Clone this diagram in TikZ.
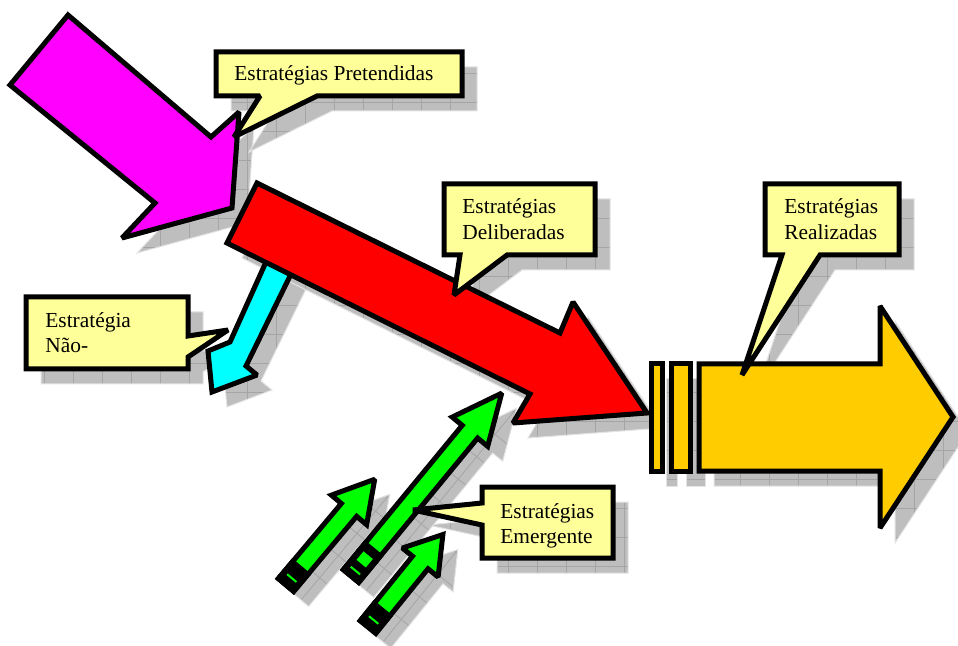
\documentclass[tikz,border=0pt]{standalone}
\usepackage{fontspec}
\setmainfont{Liberation Serif}

\definecolor{shadowgray}{RGB}{190,190,190}
\definecolor{gridgray}{RGB}{165,165,165}
\definecolor{rimgray}{RGB}{228,228,228}
\definecolor{calloutyellow}{RGB}{255,255,153}
\definecolor{realized}{RGB}{255,204,0}
\definecolor{arrowgreen}{RGB}{0,255,0}
\definecolor{intended}{RGB}{255,0,255}
\definecolor{unrealized}{RGB}{0,255,255}
\definecolor{deliberate}{RGB}{255,0,0}

% outlines of the shapes (screen units, y grows downwards)
\newcommand\pathMagenta{(68,15)--(211,137)--(239,112)--(232,208)--(122,238)--(155,203)--(10,85)--cycle}
\newcommand\pathRed{(257,183)--(560,333)--(573,302)--(647,413)--(513,423)--(530,394)--(227,243)--cycle}
\newcommand\pathCyan{(266,262)--(292,272)--(246,366)--(257,375)--(212,392)--(208,351)--(230,342)--cycle}
\newcommand\pathStripeA{(651,364) rectangle (662,471)}
\newcommand\pathStripeB{(671,364) rectangle (690,471)}
\newcommand\pathBody{(699,364)--(880,364)--(880,306)--(953,417)--(880,528)--(880,471)--(699,471)--cycle}
\newcommand\greenpath[2]{(0,-10)--(#1-#2,-10)--(#1-#2,-23)--(#1,0)--(#1-#2,23)--(#1-#2,10)--(0,10)--cycle}
\newcommand\pathPre{(216,52)--(462,52)--(462,96)--(317,96)--(234,137)--(260,96)--(216,96)--cycle}
\newcommand\pathDel{(444,184)--(595,184)--(595,255)--(507,255)--(454,295)--(460,255)--(444,255)--cycle}
\newcommand\pathRea{(765,184)--(899,184)--(899,255)--(820,255)--(742,375)--(782,255)--(765,255)--cycle}
\newcommand\pathNao{(26,297)--(188,297)--(188,336)--(228,330)--(188,357)--(188,369)--(26,369)--cycle}
\newcommand\pathEme{(482,487)--(613,487)--(613,558)--(482,558)--(482,525)--(413,510)--(482,503)--cycle}

% gray gridded drop shadow of a closed path
\newcommand\castshadow[1]{%
  \fill[shadowgray] #1;
  \begin{scope}
    \clip #1;
    \foreach \gl in {-58,-29,...,986}{%
      \draw[gridgray, line width=0.4pt] (\gl,-60) -- (\gl,1000);
      \draw[gridgray, line width=0.4pt] (-60,\gl) -- (1000,\gl);
    }
  \end{scope}
  \draw[rimgray, line width=0.5pt] #1;
}

\begin{document}
\begin{tikzpicture}[x=0.5pt,y=-0.5pt,
  outline/.style={draw=black, line width=2.5pt, line join=miter, miter limit=2},
  lbl/.style={anchor=base west, inner sep=0pt, font=\fontsize{10.7pt}{13pt}\selectfont}]

\useasboundingbox (0,0) rectangle (958,646);

% ---- shadows ----
\begin{scope}[shift={(15,15)}]
  \castshadow{\pathMagenta}
  \castshadow{\pathCyan}
  \castshadow{\pathRed}
  \castshadow{\pathStripeA}
  \castshadow{\pathStripeB}
  \castshadow{\pathBody}
  \castshadow{\pathPre}
  \castshadow{\pathDel}
  \castshadow{\pathRea}
  \castshadow{\pathNao}
  \castshadow{\pathEme}
\end{scope}
\begin{scope}[shift={(301,600)}, rotate=50]
  \castshadow{\greenpath{138}{40}}
\end{scope}
\begin{scope}[shift={(366,591)}, rotate=50.5]
  \castshadow{\greenpath{237}{50}}
\end{scope}
\begin{scope}[shift={(383,642)}, rotate=51]
  \castshadow{\greenpath{119}{36}}
\end{scope}

% ---- big arrows ----
\draw[outline, fill=intended] \pathMagenta;
\draw[outline, fill=unrealized] \pathCyan;
\draw[outline, fill=deliberate] \pathRed;
\draw[outline, fill=realized] \pathStripeA;
\draw[outline, fill=realized] \pathStripeB;
\draw[outline, fill=realized] \pathBody;

% ---- green arrows ----
\begin{scope}[shift={(286,585)}, rotate=50]
  \draw[outline, fill=arrowgreen] \greenpath{138}{40};
  \draw[outline, fill=black] (0,-10) rectangle (22,10);
  \draw[arrowgreen, line width=1pt] (9,-6) -- (9,6);
\end{scope}
\begin{scope}[shift={(351,576)}, rotate=50.5]
  \draw[outline, fill=arrowgreen] \greenpath{237}{50};
  \draw[outline, fill=black] (0,-10) rectangle (34,10);
  \draw[arrowgreen, line width=1pt] (7,-6) -- (7,6);
  \fill[arrowgreen] (16,-6) rectangle (27,6);
\end{scope}
\begin{scope}[shift={(368,627)}, rotate=51]
  \draw[outline, fill=arrowgreen] \greenpath{119}{36};
  \draw[outline, fill=black] (0,-10) rectangle (22,10);
  \draw[arrowgreen, line width=1pt] (9,-6) -- (9,6);
\end{scope}

% ---- callouts ----
\draw[outline, fill=calloutyellow] \pathPre;
\draw[outline, fill=calloutyellow] \pathDel;
\draw[outline, fill=calloutyellow] \pathRea;
\draw[outline, fill=calloutyellow] \pathNao;
\draw[outline, fill=calloutyellow] \pathEme;

\node[lbl] (tPre)  at (234,81)  {Estratégias Pretendidas};
\node[lbl] (tDel1) at (462,214) {Estratégias};
\node[lbl] (tDel2) at (462,240) {Deliberadas};
\node[lbl] (tRea1) at (784,214) {Estratégias};
\node[lbl] (tRea2) at (784,240) {Realizadas};
\node[lbl] (tNao1) at (45,328)  {Estratégia};
\node[lbl] (tNao2) at (45,353)  {Não-};
\node[lbl] (tEme1) at (500,518) {Estratégias};
\node[lbl] (tEme2) at (500,543) {Emergente};

\end{tikzpicture}
\end{document}
